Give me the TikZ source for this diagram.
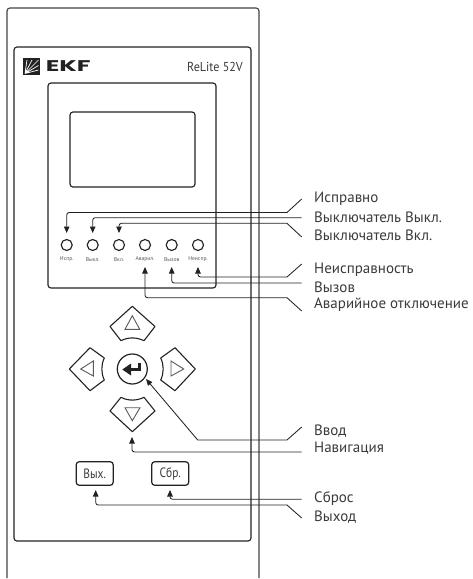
\documentclass[tikz,border=0pt]{standalone}
\usepackage{fontspec}
\setmainfont{PT Sans}
\newfontfamily\logofont{Poppins}[Scale=1]
\usetikzlibrary{arrows.meta}
\definecolor{ink}{HTML}{222222}
\definecolor{txt}{HTML}{3A3A3A}
\tikzset{
  panel/.style={draw=ink,line width=1.15pt,rounded corners=3pt},
  leader/.style={draw=ink,line width=0.85pt},
  tipped/.style={leader,-{Triangle[length=6.5pt,width=5.5pt]}},
  ledlabel/.style={font=\fontsize{5.6}{6}\selectfont,text=txt!85,inner sep=0pt},
  rlabel/.style={font=\fontsize{15}{17}\selectfont,text=txt,anchor=west,inner sep=0pt},
  keybox/.style={draw=ink,line width=1.2pt,rounded corners=3pt,minimum width=37pt,minimum height=23.5pt,inner sep=0pt},
  keytext/.style={font=\fontsize{13.5}{15}\selectfont,text=txt,xscale=0.85,inner sep=0pt},
  navkey/.style={draw=ink,line width=1.1pt,line join=round},
  navtri/.style={draw=ink!75,line width=0.9pt,line join=miter},
  led/.style={circle,draw=ink,line width=1.15pt,minimum size=11pt,inner sep=0pt},
}
\begin{document}
\begin{tikzpicture}[x=1pt,y=-1pt]
\useasboundingbox (0,0) rectangle (472,579);
% housing
\draw[panel,draw=ink!85] (7,578) -- (7,8) -- (259,8) -- (259,578);
\draw[panel] (14,47) rectangle (251,541);
\draw[panel] (48,83) rectangle (216,288);
\draw[panel] (70,112) rectangle (195,187);
% logo
\fill[ink] (23.3,58.3) rectangle (40,75);
\draw[white,line width=0.7pt] (25,73.5) -- (38.5,60) (25,73.5) -- (38.5,65.5) (25,73.5) -- (38.5,70) (25,73.5) -- (32,60) (25,73.5) -- (27,60);
\node[inner sep=0pt,anchor=west,font=\logofont\bfseries\fontsize{15.5}{15}\selectfont,text=ink,xscale=1.62] (logo) at (45.5,66.5) {EKF};
\node[inner sep=0pt,anchor=east,font=\fontsize{13}{14}\selectfont,text=txt,xscale=0.93] (model) at (243,66.7) {ReLite 52V};
% LEDs
\foreach \n/\x/\t in {a/66.7/Испр.,b/92.7/Выкл.,c/119/Вкл.,d/145/Аварил.,e/171.7/Вызов,f/198/Неиспр.}{
  \node[led] (led\n) at (\x,245) {};
  \node[ledlabel] (lab\n) at (\x,259.5) {\t};
}
% nav keys
\draw[navkey] (132.3,306.3) -- (155,326.5) -- (144,340.7) .. controls (136.5,337) and (128,337) .. (121,340.7) -- (110,326.5) -- cycle;
\draw[navkey] (132.3,431.7) -- (155,411) -- (144,397.3) .. controls (136.5,401) and (128,401) .. (121,397.3) -- (110,411) -- cycle;
\draw[navkey] (69.3,369) -- (90,347.7) -- (104.3,358) .. controls (101,365) and (101,373) .. (104.3,380) -- (90,390.7) -- cycle;
\draw[navkey] (195.3,369) -- (175,347.7) -- (160.7,358) .. controls (164,365) and (164,373) .. (160.7,380) -- (175,390.7) -- cycle;
\draw[navtri] (132.3,315.7) -- (139.7,329.3) -- (125,329.3) -- cycle;
\draw[navtri] (132.3,420.7) -- (140,407.7) -- (125,407.7) -- cycle;
\draw[navtri] (80.7,369) -- (93.3,361) -- (93.3,376) -- cycle;
\draw[navtri] (183.7,369) -- (171,361) -- (171,376) -- cycle;
\node[circle,draw=ink,line width=1.2pt,minimum size=30pt,inner sep=0pt] (enter) at (132.3,369) {};
\fill[ink] (122.3,369.5) -- (131,363.5) -- (131,375.5) -- cycle;
\draw[ink,line width=2.2pt] (130,369.5) -- (139.5,369.5) -- (139.5,363);
% keys
\node[keybox] (exit) at (94.7,473.5) {};
\node[keytext] at (exit) {Вых.};
\node[keybox] (reset) at (170.2,473.5) {};
\node[keytext] at (reset) {Сбр.};
% label anchors
\coordinate (t1) at (301.7,199);\coordinate (m1) at (287,212.5);
\coordinate (t2) at (301.7,217.7);
\coordinate (t3) at (301.7,237);\coordinate (m3) at (287,223.3);
\coordinate (t4) at (301.7,264);\coordinate (m4) at (287,277);
\coordinate (t5) at (301.7,283);
\coordinate (t6) at (301.7,311);\coordinate (m6) at (287,297.7);
\coordinate (t7) at (301.7,427);\coordinate (m7) at (287,440);\coordinate (k7) at (197.7,440);
\coordinate (t8) at (301.7,452);
\coordinate (t9) at (301.7,499.3);
\coordinate (t10) at (301.7,518);\coordinate (m10) at (287,505);
% leaders
\draw[leader] (t1) -- (m1);
\draw[tipped,rounded corners=2.5pt] (m1) -- (66.7,212.5) -- (66.7,233);
\draw[tipped,rounded corners=2.5pt] (t2) -- (92.7,217.7) -- (92.7,233);
\draw[leader] (t3) -- (m3);
\draw[tipped,rounded corners=2.5pt] (m3) -- (119,223.3) -- (119,233);
\draw[leader] (t4) -- (m4);
\draw[tipped,rounded corners=2.5pt] (m4) -- (198,277) -- (198,267);
\draw[tipped,rounded corners=2.5pt] (t5) -- (171.7,283) -- (171.7,267);
\draw[leader] (t6) -- (m6);
\draw[tipped,rounded corners=2.5pt] (m6) -- (145,297.7) -- (145,267);
\draw[tipped] (t7) -- (m7) -- (k7) -- (146,379);
\draw[tipped,rounded corners=2.5pt] (t8) -- (132,452) -- (132,437);
\draw[tipped,rounded corners=2.5pt] (t9) -- (170,499.3) -- (170,490);
\draw[leader] (t10) -- (m10);
\draw[tipped,rounded corners=2.5pt] (m10) -- (95.7,505) -- (95.7,490);
% labels
\node[rlabel] (l1) at (314,199) {Исправно};
\node[rlabel] (l2) at (314,217.5) {Выключатель Выкл.};
\node[rlabel] (l3) at (314,235) {Выключатель Вкл.};
\node[rlabel] (l4) at (314,269.5) {Неисправность};
\node[rlabel] (l5) at (314,287) {Вызов};
\node[rlabel] (l6) at (314,304.5) {Аварийное отключение};
\node[rlabel] (l7) at (314,431) {Ввод};
\node[rlabel] (l8) at (314,448) {Навигация};
\node[rlabel] (l9) at (314,499) {Сброс};
\node[rlabel] (l10) at (314,517) {Выход};
\end{tikzpicture}
\end{document}
